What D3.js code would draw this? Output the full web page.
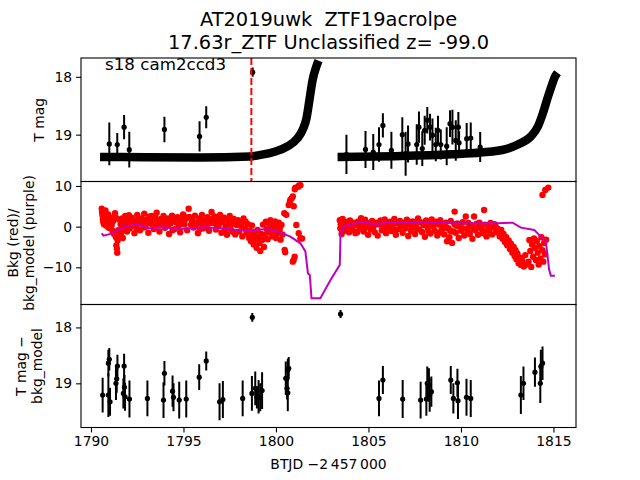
<!DOCTYPE html>
<html><head><meta charset="utf-8">
<script src="https://cdn.jsdelivr.net/npm/d3@7"></script>
<style>body{margin:0;background:#fff}svg{display:block}text{font-family:"DejaVu Sans",sans-serif;white-space:pre}</style>
</head><body>
<script>
// ---------- DATA ----------
const titleLines = ["AT2019uwk  ZTF19acrolpe", "17.63r_ZTF Unclassified z= -99.0"];
const annotation = "s18 cam2ccd3";
const xLabel = "BTJD \u22122\u2009457\u2009000";
const timeTicks = [1790, 1795, 1800, 1805, 1810, 1815];
const magTicks = [18, 19];
const bkgTicks = [10, 0, -10];
const peakTime = 1798.67;

// dense light-curve band (T mag), two orbits
const bandOrbit1 = [[1790.49,19.385],[1793.0,19.39],[1795.9,19.394],[1798.61,19.377],[1799.15,19.35],[1799.97,19.29],[1800.62,19.203],[1801.16,19.064],[1801.48,18.89],[1801.65,18.717],[1801.81,18.40],[1801.98,18.057],[1802.19,17.814],[1802.3,17.72]];
const bandOrbit2 = [[1803.33,19.385],[1806.74,19.37],[1809.5,19.34],[1811.07,19.31],[1812.43,19.25],[1813.08,19.17],[1813.78,19.03],[1814.16,18.86],[1814.43,18.63],[1814.70,18.35],[1814.92,18.14],[1815.08,18.0],[1815.22,17.93]];

// [time, T mag, error] detections in top panel
const topDetections = [[1790.99,19.16,0.37],[1791.42,19.17,0.2],[1791.79,18.87,0.21],[1792.07,19.26,0.31],[1793.97,18.91,0.22],[1795.87,19.03,0.26],[1796.23,18.7,0.19],[1798.74,17.92,0.08],
[1803.81,19.34,0.34],[1804.84,19.255,0.32],[1805.26,19.3,0.31],[1805.57,19.17,0.30],[1805.78,18.84,0.21],[1806.24,19.27,0.32],[1806.83,19.0,0.3],[1807.01,19.33,0.38],[1807.14,19.16,0.32],[1807.61,19.17,0.35],[1807.73,18.87,0.27],[1807.91,19.24,0.3],[1808.04,18.925,0.25],[1808.18,18.75,0.23],[1808.33,18.87,0.23],[1808.46,19.01,0.29],[1808.64,19.17,0.29],[1808.76,18.925,0.25],[1808.91,19.17,0.26],[1809.23,19.2,0.33],[1809.41,18.81,0.23],[1809.54,18.87,0.3],[1809.72,19.1,0.35],[1809.86,18.87,0.26],[1809.9,19.14,0.2],[1810.31,19.07,0.27],[1810.53,19.06,0.27],[1811.04,19.215,0.26]];

// [time, background] red points
const bkgPoints = [
[1790.58,4.4],[1790.6,3.6],[1790.62,2.8],[1790.64,1.9],[1790.66,1.2],[1790.7,0.6],[1790.72,3.2],[1790.75,2.3],[1790.78,4.0],[1790.8,1.5],[1790.83,0.2],[1790.86,2.6],[1790.9,1.0],[1790.93,3.0],[1790.96,-0.3],[1791.0,1.8],[1791.03,0.8],
[1791.08,2.2],[1791.12,0.4],[1791.16,-1.0],[1791.2,1.4],[1791.25,-1.8],[1791.3,3.3],[1791.32,2.4],[1791.35,-2.6],[1791.37,-4.6],[1791.4,-5.4],[1791.42,-6.4],[1791.44,-3.4],[1791.47,-0.9],[1791.5,1.8],
[1791.55,-2.2],[1791.6,0.6],[1791.63,-1.5],[1791.68,2.0],[1791.72,-2.8],[1791.76,1.2],[1791.8,-0.5],[1791.85,2.6],[1791.9,0.2],[1791.95,-1.2],[1792.0,1.6],[1792.05,2.8],[1792.1,-0.4],[1792.15,1.0],
[1792.2,2.2],[1792.28,0.3],[1792.35,-1.6],[1792.42,1.5],[1792.5,2.9],[1792.58,0.8],[1792.65,-0.9],[1792.72,2.0],[1792.8,1.1],[1792.88,3.2],[1792.95,0.0],[1793.02,1.8],[1793.1,-1.5],[1793.18,2.5],[1793.25,0.7],[1793.33,1.6],[1793.4,-0.6],[1793.48,2.2],[1793.55,3.4],[1793.62,0.9],[1793.7,-1.2],[1793.78,1.9],[1793.85,0.4],[1793.92,2.6],[1794.0,-0.3],[1794.08,1.3],[1794.15,2.0],[1794.22,-1.8],[1794.3,0.8],[1794.38,2.7],[1794.45,1.5],[1794.52,-0.6],[1794.6,1.0],[1794.68,2.3],[1794.75,0.2],[1794.82,-1.4],[1794.9,1.7],[1794.98,3.0],[1795.05,0.6],[1795.12,1.9],[1795.2,-0.9],[1795.28,4.4],[1795.32,2.4],[1795.4,0.5],[1795.48,1.4],[1795.55,-0.2],[1795.62,2.7],[1795.7,1.0],[1795.78,-1.6],[1795.85,2.0],[1795.92,0.8],[1796.0,2.9],[1796.08,-0.4],[1796.15,1.6],[1796.22,0.2],[1796.3,2.3],[1796.38,-1.0],[1796.45,1.2],
[1792.24,1.2],[1792.46,-0.3],[1792.62,1.9],[1792.84,-0.2],[1793.06,0.9],[1793.29,2.6],[1793.52,0.2],[1793.74,1.1],[1793.96,1.6],[1794.18,0.5],[1794.41,-0.9],[1794.64,1.8],[1794.86,0.9],[1795.08,2.4],[1795.44,1.9],[1795.66,0.3],[1795.88,-0.7],[1796.11,1.0],[1796.34,0.7],[1796.56,1.9],[1796.78,0.6],[1797.02,1.4],[1797.24,-0.8],[1797.46,0.6],[1797.68,-1.3],[1797.9,1.0],[1798.14,0.2],[1798.36,1.2],[1798.52,-1.2],
[1796.52,3.6],[1796.6,0.9],[1796.68,2.5],[1796.75,-0.7],[1796.82,1.8],[1796.9,0.3],[1796.98,2.9],[1797.05,-1.5],[1797.12,1.1],[1797.2,2.2],[1797.28,0.0],[1797.35,-2.0],[1797.42,1.5],[1797.5,2.6],[1797.58,-0.8],[1797.65,0.7],[1797.72,1.9],[1797.8,-1.9],[1797.88,0.4],[1797.95,1.6],[1798.02,-1.2],[1798.1,0.9],[1798.18,-2.4],[1798.25,2.0],[1798.32,-0.5],[1798.4,-1.7],[1798.48,0.6],
[1798.55,-2.8],[1798.6,-1.0],[1798.65,-3.6],[1798.7,0.3],[1798.75,-2.2],[1798.8,-4.4],[1798.85,-1.5],[1798.9,-3.0],[1798.95,-5.2],[1799.0,-0.8],[1799.05,-2.6],[1799.1,-4.0],[1799.15,-6.0],[1799.2,-1.8],[1799.25,-3.3],[1799.3,0.5],[1799.35,-5.0],[1799.4,-2.0],[1799.45,1.2],[1799.5,-0.6],[1799.55,-3.1],
[1799.6,0.9],[1799.65,-1.4],[1799.7,1.6],[1799.75,-0.2],[1799.8,-2.4],[1799.85,0.6],[1799.9,-1.0],[1799.95,1.3],[1800.0,-2.8],[1800.05,0.1],[1800.1,-1.6],[1800.15,1.0],[1800.2,-0.7],[1800.25,-3.2],[1800.3,0.4],[1800.35,-1.9],
[1800.45,3.3],[1800.56,2.9],[1800.47,-5.7],[1800.5,-6.3],[1800.69,5.3],[1800.75,6.1],[1800.78,6.6],[1800.91,7.4],[1800.85,7.0],[1800.96,5.0],[1801.02,9.2],[1801.05,9.6],[1801.2,9.8],[1801.25,10.1],[1801.32,10.2],[1801.1,0.4],[1801.23,-1.6],[1801.32,-2.9],[1801.41,-2.9],[1800.96,-8.2],[1800.91,-8.6],[1801.01,-7.4],
[1803.45,1.6],[1803.48,-0.4],[1803.5,0.6],[1803.55,-1.8],[1803.6,1.9],[1803.65,0.2],[1803.7,-1.0],[1803.75,1.2],[1803.8,-0.2],[1803.88,0.8],[1803.95,-1.4],[1804.0,1.5],[1804.08,0.0],[1804.15,-0.8],[1804.22,1.0],[1804.3,-1.6],[1804.38,0.4],[1804.45,1.3],[1804.52,-0.5],[1804.6,2.1],[1804.68,0.6],[1804.75,-1.2],[1804.82,1.7],[1804.9,-0.1],[1804.98,-2.0],[1805.05,0.9],[1805.12,-0.7],[1805.2,1.4],[1805.28,0.1],[1805.35,-1.4],[1805.42,1.0],[1805.5,-2.2],[1805.58,0.5],[1805.65,1.5],[1805.72,-0.9],[1805.8,0.3],[1805.88,1.8],[1805.95,-1.6],[1806.02,0.7],[1806.1,-0.3],[1806.18,1.2],[1806.25,-1.1],[1806.32,0.4],[1806.4,1.9],[1806.48,-2.0],[1806.55,0.9],[1806.62,-0.6],[1806.7,1.4],[1806.78,0.0],[1806.85,-1.5],[1806.92,1.0],[1807.0,-0.4],[1807.08,1.7],[1807.15,-2.3],[1807.22,0.6],[1807.3,-1.0],[1807.38,1.3],[1807.45,0.2],[1807.52,-1.8],[1807.6,0.8],[1807.68,2.0],[1807.75,-0.7],[1807.82,1.1],[1807.9,-1.3],[1807.98,0.4],[1808.05,-2.5],[1808.12,1.5],[1808.2,-0.2],[1808.28,0.9],[1808.35,-1.7],[1808.42,1.8],[1808.5,0.1],[1808.58,-1.0],[1808.65,1.2],[1808.72,-2.2],[1808.8,0.5],[1808.88,1.6],[1808.95,-0.8],[1809.02,0.3],[1809.1,-1.9],[1809.18,1.0],[1809.25,-3.6],[1809.32,-0.4],[1809.38,-2.6],[1809.45,1.4],[1809.52,-4.0],[1809.58,-1.2],[1809.65,0.6],
[1803.58,-0.9],[1803.84,1.0],[1804.12,0.7],[1804.4,-1.3],[1804.64,-0.3],[1804.94,0.5],[1805.24,-0.6],[1805.54,0.8],[1805.84,-0.5],[1806.14,0.3],[1806.44,-0.8],[1806.74,0.6],[1807.04,0.8],[1807.34,-0.3],[1807.64,-0.6],[1807.94,0.9],[1808.24,-1.1],[1808.54,0.9],[1808.84,-1.5],[1809.14,-0.3],[1809.42,-1.0],[1809.76,0.2],[1810.06,-0.4],[1810.36,-1.4],[1810.66,-0.6],[1810.96,0.1],[1811.26,-1.1],[1811.56,-0.4],[1811.86,0.2],
[1809.66,3.7],[1809.72,-1.5],[1809.8,0.8],[1809.88,-2.8],[1809.95,0.0],[1810.02,-1.0],[1810.1,1.1],[1810.18,-2.2],[1810.26,2.5],[1810.32,-0.5],[1810.4,0.9],[1810.48,-1.8],[1810.55,0.3],[1810.62,-3.0],[1810.71,2.5],[1810.78,-0.9],[1810.85,0.7],[1810.92,-2.0],[1811.0,1.0],[1811.08,-0.4],[1811.15,-1.6],[1811.25,4.1],[1811.3,0.5],[1811.38,-2.4],[1811.45,0.2],[1811.52,-1.0],[1811.6,0.9],[1811.68,-1.9],[1811.75,-0.2],[1811.82,0.6],[1811.9,-1.4],[1811.98,-0.5],
[1812.05,-1.2],[1812.1,-2.4],[1812.18,-0.8],[1812.25,-3.0],[1812.3,-1.8],[1812.38,-3.8],[1812.45,-2.6],[1812.5,-4.6],[1812.58,-3.4],[1812.65,-5.5],[1812.7,-4.2],[1812.78,-6.4],[1812.85,-5.0],[1812.9,-7.2],[1812.95,-5.8],[1813.0,-8.0],[1813.05,-6.6],[1813.12,-9.0],[1813.2,-7.6],[1813.25,-9.4],[1813.32,-8.4],[1813.4,-9.8],[1813.48,-7.0],[1813.55,-9.3],
[1813.65,-8.6],[1813.7,-3.3],[1813.75,-6.0],[1813.8,-9.9],[1813.85,-4.4],[1813.9,-7.4],[1813.95,-2.9],[1814.0,-5.2],[1814.05,-8.2],[1814.1,-3.6],[1814.15,-6.4],[1814.2,-9.3],[1814.25,-4.8],[1814.3,-7.8],[1814.35,-2.6],[1814.4,-5.8],[1814.45,-8.6],[1814.5,-4.0],[1814.55,-6.8],[1814.6,-3.2],
[1814.41,7.8],[1814.56,9.0],[1814.72,9.6]];

// [time, model] purple line
const bkgModel = [[1790.58,-1.63],[1790.67,-2.2],[1791.21,-1.6],[1791.57,-0.4],[1792.11,0.25],[1792.47,0.6],[1793.1,-0.4],[1793.92,-0.15],[1794.82,-0.65],[1795.36,-0.4],[1796.08,-0.15],[1796.99,-0.4],[1797.89,-0.8],[1798.79,-0.8],[1799.6,-0.57],[1800.24,-1.47],[1800.78,-2.46],[1801.32,-4.1],[1801.59,-6.1],[1801.73,-11.5],[1801.83,-11.9],[1801.92,-17.6],[1802.4,-17.6],[1802.95,-13.1],[1803.45,-9.4],[1803.49,-2.0],[1803.67,0],[1804.57,1.2],[1805.29,0.66],[1806.56,1.08],[1808.36,1.08],[1809.63,0.84],[1811.98,0.84],[1812.79,0.98],[1813.24,-0.25],[1813.96,-0.8],[1814.59,-3.7],[1814.77,-10.6],[1814.86,-12.1],[1815.08,-12.1]];

// [time, T mag - bkg_model, error] bottom panel
const diffPoints = [[1790.63,19.21,0.31],[1790.94,18.64,0.24],[1790.99,18.57,0.2],[1790.94,19.21,0.39],[1791.03,19.33,0.25],[1791.35,19.0,0.3],[1791.39,18.92,0.25],[1791.43,18.69,0.2],[1791.75,19.18,0.27],[1791.79,18.69,0.22],[1791.81,19.07,0.22],[1791.84,19.24,0.25],[1792.08,19.28,0.33],[1793.05,19.27,0.32],[1793.92,19.3,0.32],[1793.97,18.82,0.22],[1794.41,19.14,0.28],[1794.46,19.25,0.25],[1794.77,19.3,0.33],[1795.15,19.28,0.33],[1795.85,18.89,0.23],[1796.23,18.6,0.17],[1796.95,19.33,0.33],[1797.13,19.29,0.33],[1798.2,19.27,0.32],[1798.72,17.82,0.08],[1798.7,19.18,0.31],[1798.88,19.09,0.3],[1798.97,19.25,0.2],[1799.06,19.24,0.3],[1799.25,19.13,0.33],[1799.15,19.25,0.25],[1800.53,18.91,0.3],[1800.6,19.09,0.2],[1800.64,18.76,0.2],[1800.69,18.73,0.2],[1800.64,19.17,0.33],
[1803.49,17.76,0.07],[1805.57,19.27,0.32],[1805.78,18.94,0.25],[1806.85,19.28,0.34],[1807.82,19.3,0.33],[1808.13,19.28,0.3],[1808.18,19.0,0.3],[1808.27,19.03,0.3],[1808.4,19.15,0.27],[1808.31,19.21,0.3],[1809.45,18.94,0.25],[1809.59,19.27,0.27],[1809.81,18.99,0.25],[1809.84,19.31,0.33],[1810.3,19.25,0.33],[1810.53,19.27,0.33],[1813.24,19.21,0.34],[1813.38,19.0,0.3],[1814.0,18.8,0.26],[1814.29,19.0,0.35],[1814.32,18.7,0.3],[1814.41,18.64,0.3]];

// ---------- DRAW ----------
const W = 640, H = 480;
const L = 81, R = 576;
const panels = {top:[58,181.5], mid:[181.5,304.5], bot:[304.5,427.5]};
const svg = d3.select("body").append("svg").attr("width", W).attr("height", H);
const FS = 13.9;

const x = d3.scaleLinear().domain([1789.46, 1816.22]).range([L, R]);
const yTop = d3.scaleLinear().domain([17.675, 19.81]).range(panels.top);
const yMid = d3.scaleLinear().domain([11.1, -19.14]).range(panels.mid);
const yBot = d3.scaleLinear().domain([17.59, 19.79]).range(panels.bot);

const defs = svg.append("defs");
Object.entries(panels).forEach(([k, [a, b]]) => {
  defs.append("clipPath").attr("id", "clip-" + k).append("rect").attr("x", L).attr("y", a).attr("width", R - L).attr("height", b - a);
});

// top panel
const gTop = svg.append("g").attr("clip-path", "url(#clip-top)");
const bandLine = d3.line().x(d => x(d[0])).y(d => yTop(d[1])).curve(d3.curveMonotoneX);
[bandOrbit1, bandOrbit2].forEach(seg => {
  gTop.append("path").attr("d", bandLine(seg)).attr("fill", "none").attr("stroke", "#000").attr("stroke-width", 8.5).attr("stroke-linejoin", "round");
});
function errPoints(g, data, y, r) {
  g.selectAll(null).data(data).enter().append("line")
    .attr("x1", d => x(d[0])).attr("x2", d => x(d[0]))
    .attr("y1", d => y(d[1] - d[2])).attr("y2", d => y(d[1] + d[2]))
    .attr("stroke", "#000").attr("stroke-width", 2);
  g.selectAll(null).data(data).enter().append("circle")
    .attr("cx", d => x(d[0])).attr("cy", d => y(d[1])).attr("r", r).attr("fill", "#000");
}
errPoints(gTop, topDetections, yTop, 2.6);
svg.append("line").attr("x1", x(peakTime)).attr("x2", x(peakTime))
  .attr("y1", panels.top[0]).attr("y2", panels.top[1])
  .attr("stroke", "#ff0000").attr("stroke-width", 2).attr("stroke-dasharray", "7,3");
svg.append("text").attr("x", 105).attr("y", 70).attr("font-size", 16.7).text(annotation);

// middle panel
const gMid = svg.append("g").attr("clip-path", "url(#clip-mid)");
gMid.selectAll(null).data(bkgPoints).enter().append("circle")
  .attr("cx", d => x(d[0])).attr("cy", d => yMid(d[1])).attr("r", 3.2).attr("fill", "#ff0000");
gMid.append("path").attr("d", d3.line().x(d => x(d[0])).y(d => yMid(d[1]))(bkgModel))
  .attr("fill", "none").attr("stroke", "#bf00bf").attr("stroke-width", 2);

// bottom panel
const gBot = svg.append("g").attr("clip-path", "url(#clip-bot)");
errPoints(gBot, diffPoints, yBot, 2.6);

// frames and axes
Object.values(panels).forEach(([a, b]) => {
  svg.append("rect").attr("x", L).attr("y", a).attr("width", R - L).attr("height", b - a)
    .attr("fill", "none").attr("stroke", "#000").attr("stroke-width", 1.1);
});
function yAxis(scale, ticks) {
  const g = svg.append("g").attr("transform", `translate(${L},0)`)
    .call(d3.axisLeft(scale).tickValues(ticks).tickSize(4.9).tickPadding(4).tickFormat(d3.format("d")));
  g.select(".domain").remove();
  g.selectAll("line").attr("stroke-width", 1.1);
  g.selectAll("text").attr("font-size", FS).attr("font-family", "DejaVu Sans").attr("fill", "#000");
}
yAxis(yTop, magTicks);
yAxis(yMid, bkgTicks);
yAxis(yBot, magTicks);
const gx = svg.append("g").attr("transform", `translate(0,${panels.bot[1]})`)
  .call(d3.axisBottom(x).tickValues(timeTicks).tickSize(4.9).tickPadding(4).tickFormat(d3.format("d")));
gx.select(".domain").remove();
gx.selectAll("line").attr("stroke-width", 1.1);
gx.selectAll("text").attr("font-size", FS).attr("font-family", "DejaVu Sans").attr("fill", "#000");

// titles and labels
titleLines.forEach((t, i) => {
  svg.append("text").attr("x", (L + R) / 2).attr("y", 26 + i * 23).attr("text-anchor", "middle").attr("font-size", 19.4).text(t);
});
svg.append("text").attr("x", (L + R) / 2).attr("y", 469).attr("text-anchor", "middle").attr("font-size", FS).text(xLabel);
function yLabel(lines, cy, xs) {
  lines.forEach((t, i) => {
    svg.append("text").attr("transform", `translate(${xs[i]},${cy}) rotate(-90)`)
      .attr("text-anchor", "middle").attr("font-size", FS).text(t);
  });
}
yLabel(["T mag"], (panels.top[0] + panels.top[1]) / 2, [44]);
yLabel(["Bkg (red)/", "bkg_model (purple)"], (panels.mid[0] + panels.mid[1]) / 2, [18, 34]);
yLabel(["T mag \u2212", "bkg_model"], (panels.bot[0] + panels.bot[1]) / 2, [26, 42]);
</script>
</body></html>
